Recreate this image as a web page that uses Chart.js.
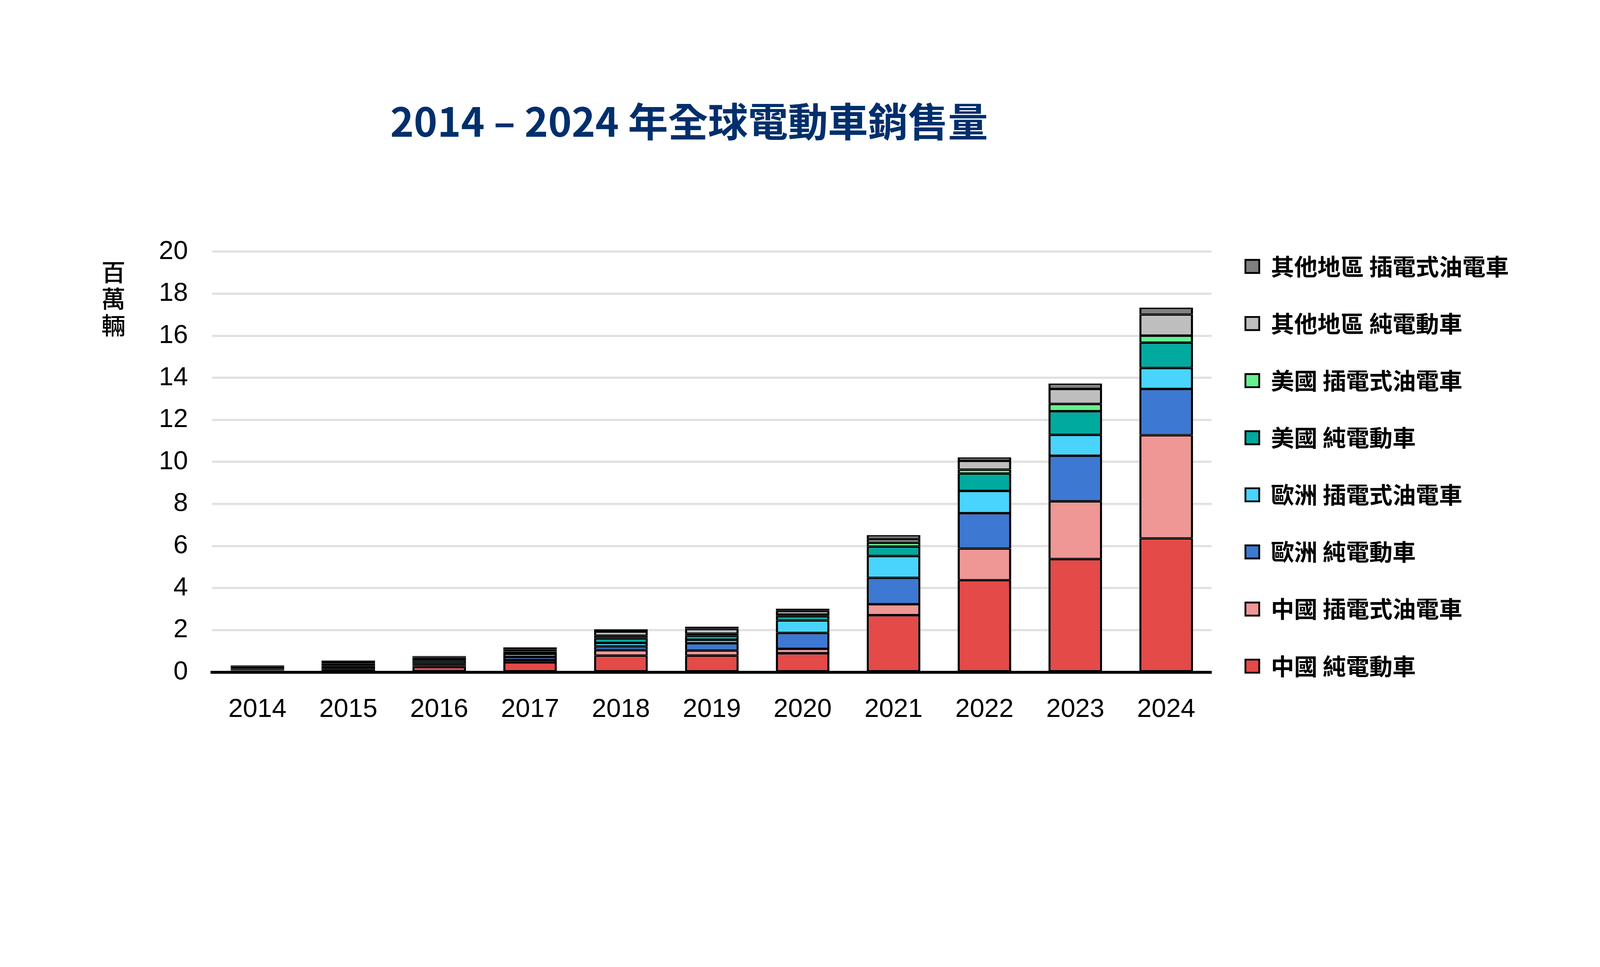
<!DOCTYPE html>
<html lang="zh-Hant">
<head>
<meta charset="utf-8">
<title>2014 – 2024 年全球電動車銷售量</title>
<script src="https://cdn.jsdelivr.net/npm/chart.js@4.4.1/dist/chart.umd.min.js"></script>
<style>
  html, body { margin: 0; padding: 0; background: #ffffff; overflow: hidden; }
  #evChart { display: block; }
</style>
</head>
<body>
<canvas id="evChart"></canvas>
<script>
// --- DATA (millions of vehicles) ---
const years = ['2014', '2015', '2016', '2017', '2018', '2019', '2020', '2021', '2022', '2023', '2024'];

const chinaBev   = [0.05, 0.15, 0.25, 0.47, 0.79, 0.80, 0.90, 2.72, 4.38, 5.39, 6.37];
const chinaPhev  = [0.02, 0.06, 0.08, 0.11, 0.26, 0.24, 0.22, 0.52, 1.51, 2.74, 4.91];
const europeBev  = [0.04, 0.09, 0.10, 0.15, 0.18, 0.34, 0.75, 1.25, 1.68, 2.17, 2.20];
const europePhev = [0.05, 0.10, 0.11, 0.15, 0.17, 0.17, 0.60, 1.04, 1.06, 1.00, 1.00];
const usBev      = [0.07, 0.07, 0.08, 0.10, 0.22, 0.20, 0.20, 0.45, 0.82, 1.12, 1.20];
const usPhev     = [0.05, 0.04, 0.07, 0.09, 0.12, 0.09, 0.07, 0.18, 0.19, 0.35, 0.33];
const otherBev   = [0.03, 0.03, 0.05, 0.07, 0.20, 0.22, 0.18, 0.17, 0.42, 0.71, 1.01];
const otherPhev  = [0.02, 0.02, 0.03, 0.04, 0.10, 0.10, 0.10, 0.19, 0.16, 0.25, 0.32];

const seriesLabels = [
    '中國 純電動車', '中國 插電式油電車',
    '歐洲 純電動車', '歐洲 插電式油電車',
    '美國 純電動車', '美國 插電式油電車',
    '其他地區 純電動車', '其他地區 插電式油電車'
];
const seriesValues = [chinaBev, chinaPhev, europeBev, europePhev, usBev, usPhev, otherBev, otherPhev];

// --- COLOURS ---
const seriesColors = ['#e34a48', '#ee9795', '#3d78d2', '#48d4fc', '#00aa9e', '#66f08f', '#bebebe', '#808080'];

const chartTitle = '2014 – 2024 年全球電動車銷售量';
const unitChars = Array.from('百萬輛');

const cjkFont = '"Noto Sans CJK TC", "Noto Sans", sans-serif';
const latinFont = '"Liberation Sans", Arial, sans-serif';

// layout was measured on a 4400 x 2475 frame; scale it to the real window
const S = Math.min(window.innerWidth / 4400, window.innerHeight / 2475);
const px = (v) => v * S;

// vertical unit label left of the y axis
const unitLabelPlugin = {
    id: 'unitLabel',
    afterDraw(chart) {
        const { ctx, chartArea } = chart;
        ctx.save();
        ctx.font = '500 ' + px(66) + 'px ' + cjkFont;
        ctx.fillStyle = '#000000';
        ctx.textAlign = 'center';
        ctx.textBaseline = 'middle';
        unitChars.forEach((ch, i) => {
            ctx.fillText(ch, chartArea.left - px(271), chartArea.top + px(56) + i * px(73));
        });
        ctx.restore();
    }
};

function buildDatasets() {
    return seriesLabels.map((label, i) => ({
        label: label,
        data: seriesValues[i],
        backgroundColor: seriesColors[i],
        borderColor: '#000000',
        borderWidth: { top: px(4), bottom: px(3), left: px(6), right: px(6) },
        borderSkipped: false,
        barPercentage: 0.59,
        categoryPercentage: 1.0
    }));
}

function renderChart() {
    const canvas = document.getElementById('evChart');
    canvas.width = Math.round(4400 * S);
    canvas.height = Math.round(2475 * S);

    new Chart(canvas, {
        type: 'bar',
        data: { labels: years, datasets: buildDatasets() },
        options: {
            responsive: false,
            devicePixelRatio: 1,
            animation: false,
            layout: { padding: { top: px(89), right: px(240), bottom: 0, left: px(-370) } },
            plugins: {
                title: {
                    display: true,
                    text: chartTitle,
                    color: '#002f6c',
                    font: { family: cjkFont, size: px(110), weight: 'bold', lineHeight: 1.2 },
                    padding: { top: px(179), bottom: px(292) }
                },
                legend: {
                    position: 'right',
                    reverse: true,
                    labels: {
                        boxWidth: px(38),
                        boxHeight: px(36),
                        padding: px(93),
                        color: '#000000',
                        font: { family: cjkFont, size: px(64), weight: 'bold' },
                        generateLabels: (chart) =>
                            Chart.defaults.plugins.legend.labels.generateLabels(chart)
                                .map(item => ({ ...item, lineWidth: px(5) }))
                    }
                },
                tooltip: { enabled: false }
            },
            scales: {
                x: {
                    stacked: true,
                    z: 1,
                    grid: { display: false, drawTicks: false },
                    border: { color: '#000000', width: px(8) },
                    ticks: {
                        color: '#000000',
                        font: { family: latinFont, size: px(72) },
                        padding: px(60),
                        maxRotation: 0,
                        autoSkip: false
                    },
                    afterFit: (scale) => { scale.height = px(627); }
                },
                y: {
                    stacked: true,
                    min: 0,
                    max: 20,
                    grid: { color: '#e0e0e0', lineWidth: px(6), drawTicks: false },
                    border: { display: false },
                    ticks: {
                        stepSize: 2,
                        color: '#000000',
                        font: { family: latinFont, size: px(72) },
                        padding: px(66)
                    },
                    afterFit: (scale) => { scale.width = px(953); }
                }
            }
        },
        plugins: [unitLabelPlugin]
    });
}

document.addEventListener('DOMContentLoaded', renderChart);
</script>
</body>
</html>
